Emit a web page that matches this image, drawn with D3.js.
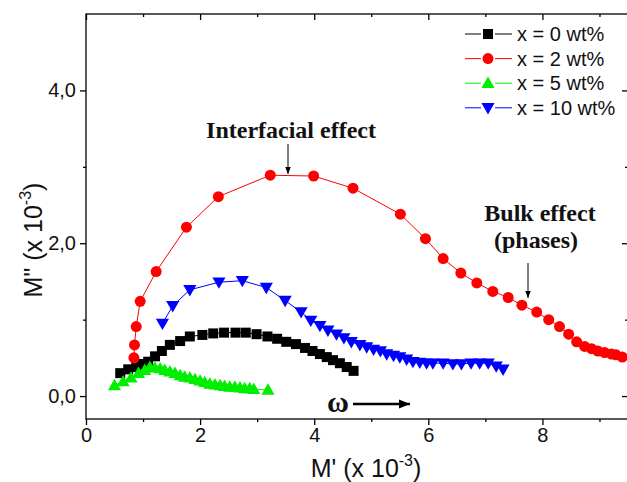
<!DOCTYPE html>
<html>
<head>
<meta charset="utf-8">
<script src="https://cdn.jsdelivr.net/npm/d3@7"></script>
<style>
  html, body { margin: 0; padding: 0; background: #fff; }
  svg { display: block; font-family: "Liberation Sans", Arial, sans-serif; }
</style>
</head>
<body>
<svg id="chart" width="627" height="482"></svg>
<script>
// Electric modulus (M'' vs M') for each filler content
const seriesNames = ["x = 0 wt%", "x = 2 wt%", "x = 5 wt%", "x = 10 wt%"];
const seriesColors = ["#000000", "#ff0000", "#00ee00", "#0000ff"];
const seriesSymbols = ["square", "circle", "triangleUp", "triangleDown"];

const m1_x0 = [0.60, 0.74, 0.88, 0.99, 1.09, 1.21, 1.33, 1.47, 1.65, 1.82, 2.04, 2.23, 2.42, 2.62, 2.80, 2.99, 3.18, 3.35, 3.51, 3.68, 3.84, 3.97, 4.10, 4.22, 4.33, 4.45, 4.57, 4.69];
const m2_x0 = [0.30, 0.35, 0.38, 0.42, 0.45, 0.52, 0.59, 0.67, 0.72, 0.78, 0.80, 0.82, 0.83, 0.83, 0.83, 0.81, 0.78, 0.75, 0.71, 0.68, 0.63, 0.59, 0.55, 0.51, 0.47, 0.43, 0.38, 0.33];

const m1_x2 = [0.84, 0.85, 0.88, 0.95, 1.23, 1.76, 2.32, 3.23, 3.99, 4.68, 5.51, 5.95, 6.26, 6.57, 6.85, 7.13, 7.40, 7.64, 7.90, 8.11, 8.30, 8.46, 8.60, 8.74, 8.86, 8.97, 9.09, 9.21, 9.29, 9.40];
const m2_x2 = [0.50, 0.67, 0.91, 1.24, 1.63, 2.21, 2.61, 2.89, 2.88, 2.72, 2.38, 2.06, 1.80, 1.61, 1.48, 1.37, 1.29, 1.19, 1.10, 1.00, 0.91, 0.81, 0.71, 0.65, 0.62, 0.59, 0.57, 0.55, 0.54, 0.51];

const m1_x5 = [0.50, 0.65, 0.79, 0.92, 1.03, 1.12, 1.21, 1.30, 1.38, 1.47, 1.56, 1.65, 1.73, 1.82, 1.91, 2.00, 2.08, 2.17, 2.26, 2.35, 2.43, 2.52, 2.61, 2.70, 2.78, 2.87, 2.94, 3.19];
const m2_x5 = [0.14, 0.19, 0.24, 0.30, 0.34, 0.38, 0.37, 0.36, 0.34, 0.32, 0.30, 0.27, 0.25, 0.24, 0.22, 0.20, 0.18, 0.16, 0.15, 0.14, 0.13, 0.12, 0.12, 0.11, 0.10, 0.10, 0.09, 0.08];

const m1_x10 = [1.34, 1.52, 1.82, 2.33, 2.74, 3.16, 3.49, 3.77, 3.94, 4.10, 4.24, 4.39, 4.52, 4.65, 4.80, 4.92, 5.04, 5.16, 5.27, 5.39, 5.50, 5.62, 5.73, 5.85, 5.97, 6.08, 6.26, 6.43, 6.58, 6.75, 6.90, 7.05, 7.19, 7.31];
const m2_x10 = [0.95, 1.18, 1.39, 1.49, 1.51, 1.42, 1.25, 1.10, 0.99, 0.92, 0.86, 0.81, 0.76, 0.71, 0.67, 0.64, 0.61, 0.59, 0.55, 0.53, 0.51, 0.48, 0.45, 0.44, 0.43, 0.43, 0.43, 0.42, 0.42, 0.43, 0.43, 0.43, 0.39, 0.35];

const xTicks = [0, 2, 4, 6, 8];
const xMinorTicks = [1, 3, 5, 7, 9];
const yTicks = [0, 2, 4];
const yMinorTicks = [1, 3];

const seriesX = [m1_x0, m1_x2, m1_x5, m1_x10];
const seriesY = [m2_x0, m2_x2, m2_x5, m2_x10];

const svg = d3.select("#chart");
const pLeft = 86, pRight = 628, pTop = 14, pBottom = 419;

const x = d3.scaleLinear().domain([0, 9.5]).range([pLeft, pRight]);
const y = d3.scaleLinear().domain([-0.3, 5.0]).range([pBottom, pTop]);

const fmtY = v => d3.format(".1f")(v).replace(".", ",");
const sans = '"Liberation Sans", Arial, sans-serif';
const serif = '"Liberation Serif", "Times New Roman", serif';

// Frame
svg.append("rect")
  .attr("x", pLeft).attr("y", pTop)
  .attr("width", pRight - pLeft).attr("height", pBottom - pTop)
  .attr("fill", "none").attr("stroke", "#000").attr("stroke-width", 1.3);

function plainTicks(g) {
  g.select(".domain").remove();
  g.selectAll("line").attr("stroke-width", 1.3);
}
function tickText(g) {
  g.selectAll("text").style("font-family", sans).style("font-size", "20px").attr("fill", "#111");
}

// Bottom axis (outward ticks)
svg.append("g").attr("transform", `translate(0,${pBottom})`)
  .call(d3.axisBottom(x).tickValues(xTicks).tickFormat(d3.format("d")).tickSize(6).tickPadding(3))
  .call(plainTicks).call(tickText);
svg.append("g").attr("transform", `translate(0,${pBottom})`)
  .call(d3.axisBottom(x).tickValues(xMinorTicks).tickFormat("").tickSize(3)).call(plainTicks);

// Top axis (inward ticks)
svg.append("g").attr("transform", `translate(0,${pTop})`)
  .call(d3.axisBottom(x).tickValues(xTicks).tickFormat("").tickSize(6)).call(plainTicks);
svg.append("g").attr("transform", `translate(0,${pTop})`)
  .call(d3.axisBottom(x).tickValues(xMinorTicks).tickFormat("").tickSize(3)).call(plainTicks);

// Left axis (outward ticks)
svg.append("g").attr("transform", `translate(${pLeft},0)`)
  .call(d3.axisLeft(y).tickValues(yTicks).tickFormat(fmtY).tickSize(6).tickPadding(4))
  .call(plainTicks).call(tickText);
svg.append("g").attr("transform", `translate(${pLeft},0)`)
  .call(d3.axisLeft(y).tickValues(yMinorTicks).tickFormat("").tickSize(3)).call(plainTicks);

// Right axis (inward ticks)
svg.append("g").attr("transform", `translate(${pRight},0)`)
  .call(d3.axisLeft(y).tickValues(yTicks).tickFormat("").tickSize(6)).call(plainTicks);
svg.append("g").attr("transform", `translate(${pRight},0)`)
  .call(d3.axisLeft(y).tickValues(yMinorTicks).tickFormat("").tickSize(3)).call(plainTicks);

// Axis titles
function titleWithExp(sel, base) {
  sel.style("font-family", sans).style("font-size", "25px").attr("fill", "#111")
    .attr("text-anchor", "middle");
  sel.append("tspan").text(base);
  sel.append("tspan").style("font-size", "16px").attr("dy", -11).text("-3");
  sel.append("tspan").attr("dy", 11).text(")");
}
svg.append("text").attr("x", 366).attr("y", 477).call(titleWithExp, "M' (x 10");
svg.append("text").attr("transform", "translate(42,240) rotate(-90)").call(titleWithExp, "M\" (x 10");

// Marker shapes
const symbolFor = {
  square: d3.symbol().type(d3.symbolSquare).size(100),
  circle: d3.symbol().type(d3.symbolCircle).size(95),
  triangleUp: d3.symbol().type(d3.symbolTriangle).size(75),
  triangleDown: d3.symbol().type(d3.symbolTriangle).size(75)
};
function drawMarker(g, kind, cx, cy, color) {
  const rot = kind === "triangleDown" ? 180 : 0;
  const dy = kind === "triangleDown" ? -1 : (kind === "triangleUp" ? 1 : 0);
  g.append("path")
    .attr("d", symbolFor[kind]())
    .attr("transform", `translate(${cx},${cy + dy}) rotate(${rot})`)
    .attr("fill", color);
}

const line = d3.line().x(d => x(d[0])).y(d => y(d[1]));

seriesX.forEach((xs, i) => {
  const pts = xs.map((v, k) => [v, seriesY[i][k]]);
  const g = svg.append("g");
  g.append("path").datum(pts).attr("d", line)
    .attr("fill", "none").attr("stroke", seriesColors[i]).attr("stroke-width", 1);
  pts.forEach(p => drawMarker(g, seriesSymbols[i], x(p[0]), y(p[1]), seriesColors[i]));
});

// Legend
const legend = svg.append("g");
seriesNames.forEach((name, i) => {
  const ly = 34 + i * 24.6;
  legend.append("line").attr("x1", 465).attr("x2", 512).attr("y1", ly).attr("y2", ly)
    .attr("stroke", seriesColors[i]).attr("stroke-width", 1);
  legend.append("rect").attr("x", 481).attr("y", ly - 6).attr("width", 14).attr("height", 12).attr("fill", "#fff");
  drawMarker(legend, seriesSymbols[i], 488, ly, seriesColors[i]);
  legend.append("text").attr("x", 517).attr("y", ly + 7)
    .style("font-family", sans).style("font-size", "20px").attr("fill", "#111").text(name);
});

// Annotations
function boldNote(tx, ty, s, size) {
  svg.append("text").attr("x", tx).attr("y", ty).attr("text-anchor", "middle")
    .style("font-family", serif).style("font-weight", "bold").style("font-size", (size || 24) + "px")
    .attr("fill", "#111").text(s);
}
boldNote(291, 138, "Interfacial effect");
boldNote(540, 221, "Bulk effect");
boldNote(536, 248, "(phases)");

const defs = svg.append("defs");
defs.append("marker").attr("id", "head").attr("viewBox", "0 0 10 10")
  .attr("refX", 10).attr("refY", 5).attr("markerWidth", 7).attr("markerHeight", 8)
  .attr("markerUnits", "userSpaceOnUse").attr("orient", "auto")
  .append("path").attr("d", "M0,1 L10,5 L0,9 Z").attr("fill", "#000");
defs.append("marker").attr("id", "bighead").attr("viewBox", "0 0 10 10")
  .attr("refX", 10).attr("refY", 5).attr("markerWidth", 16).attr("markerHeight", 11)
  .attr("markerUnits", "userSpaceOnUse").attr("orient", "auto")
  .append("path").attr("d", "M0,1 L10,5 L0,9 Z").attr("fill", "#000");

svg.append("line").attr("x1", 288).attr("y1", 144).attr("x2", 288).attr("y2", 174)
  .attr("stroke", "#000").attr("stroke-width", 1).attr("marker-end", "url(#head)");
svg.append("line").attr("x1", 528).attr("y1", 263).attr("x2", 528).attr("y2", 298)
  .attr("stroke", "#000").attr("stroke-width", 1).attr("marker-end", "url(#head)");

// Frequency direction
boldNote(338, 412, "ω", 30);
svg.append("line").attr("x1", 353).attr("y1", 404).attr("x2", 410).attr("y2", 404)
  .attr("stroke", "#000").attr("stroke-width", 2.5).attr("marker-end", "url(#bighead)");
</script>
</body>
</html>
